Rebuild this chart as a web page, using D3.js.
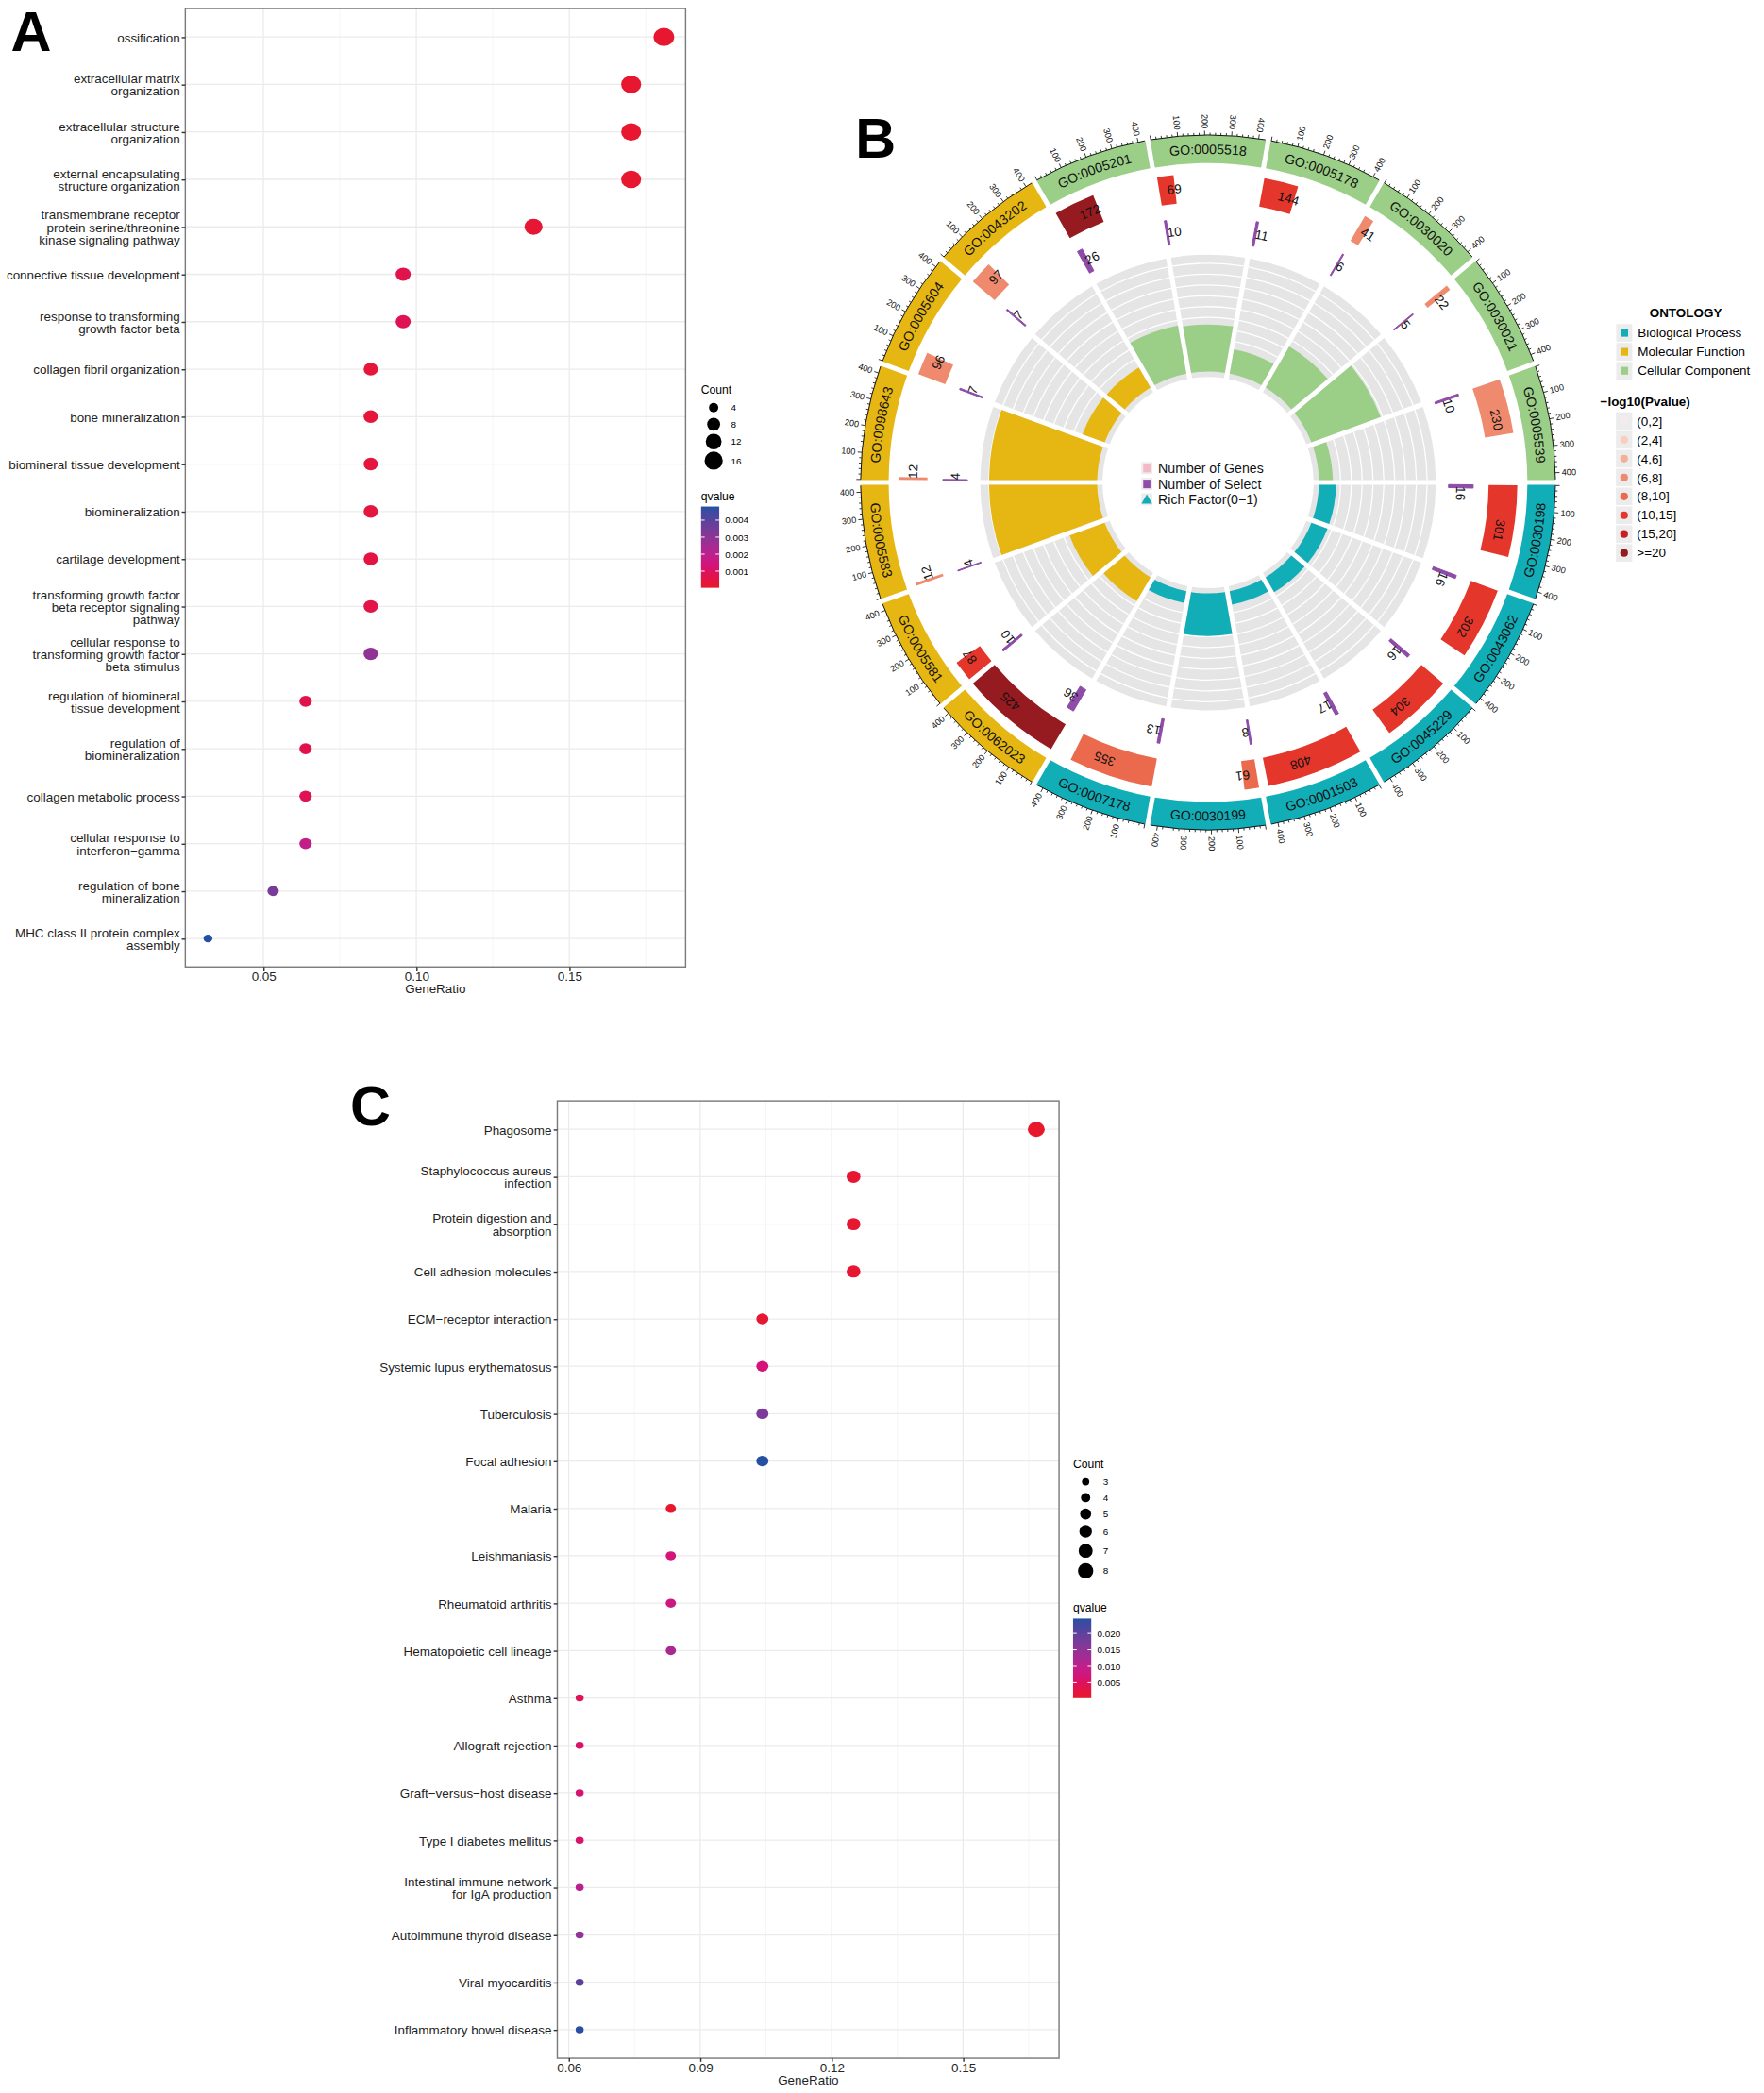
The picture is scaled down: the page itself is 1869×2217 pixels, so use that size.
<!DOCTYPE html>
<html>
<head>
<meta charset="utf-8">
<script src="https://cdn.jsdelivr.net/npm/d3@7"></script>
<style>
  body { margin: 0; background: #fff; }
  text { font-family: "Liberation Sans", Arial, sans-serif; }
</style>
</head>
<body>
<svg id="fig" width="1869" height="2217" viewBox="0 0 1320 1566"></svg>
<script>
// ---------------- data: panel A (GO dot plot) ----------------
const termsA = ["ossification", "extracellular matrix\norganization", "extracellular structure\norganization",
  "external encapsulating\nstructure organization", "transmembrane receptor\nprotein serine/threonine\nkinase signaling pathway",
  "connective tissue development", "response to transforming\ngrowth factor beta", "collagen fibril organization",
  "bone mineralization", "biomineral tissue development", "biomineralization", "cartilage development",
  "transforming growth factor\nbeta receptor signaling\npathway", "cellular response to\ntransforming growth factor\nbeta stimulus",
  "regulation of biomineral\ntissue development", "regulation of\nbiomineralization", "collagen metabolic process",
  "cellular response to\ninterferon\u2212gamma", "regulation of bone\nmineralization", "MHC class II protein complex\nassembly"];
const ratioA = [0.1809, 0.1702, 0.1702, 0.1702, 0.1383, 0.0957, 0.0957, 0.0851, 0.0851, 0.0851,
  0.0851, 0.0851, 0.0851, 0.0851, 0.0638, 0.0638, 0.0638, 0.0638, 0.0532, 0.0319];
const countA = [17, 16, 16, 16, 13, 9, 9, 8, 8, 8, 8, 8, 8, 8, 6, 6, 6, 6, 5, 3];
const qA = [0.0001, 0.0001, 0.0001, 0.0001, 0.0002, 0.0007, 0.0008, 0.0003, 0.0003, 0.0004,
  0.0004, 0.0005, 0.0006, 0.0029, 0.0007, 0.0007, 0.0008, 0.0018, 0.0034, 0.0048];
const ticksA = [0.05, 0.10, 0.15];
const minorA = [0.075, 0.125, 0.175];
const countKeysA = [4, 8, 12, 16];
const qKeysA = [0.001, 0.002, 0.003, 0.004];

// ---------------- data: panel C (KEGG dot plot) ----------------
const termsC = ["Phagosome", "Staphylococcus aureus\ninfection", "Protein digestion and\nabsorption", "Cell adhesion molecules",
  "ECM\u2212receptor interaction", "Systemic lupus erythematosus", "Tuberculosis", "Focal adhesion", "Malaria",
  "Leishmaniasis", "Rheumatoid arthritis", "Hematopoietic cell lineage", "Asthma", "Allograft rejection",
  "Graft\u2212versus\u2212host disease", "Type I diabetes mellitus", "Intestinal immune network\nfor IgA production",
  "Autoimmune thyroid disease", "Viral myocarditis", "Inflammatory bowel disease"];
const ratioC = [0.1667, 0.125, 0.125, 0.125, 0.1042, 0.1042, 0.1042, 0.1042, 0.0833, 0.0833,
  0.0833, 0.0833, 0.0625, 0.0625, 0.0625, 0.0625, 0.0625, 0.0625, 0.0625, 0.0625];
const countC = [8, 6, 6, 6, 5, 5, 5, 5, 4, 4, 4, 4, 3, 3, 3, 3, 3, 3, 3, 3];
const qC = [0.0004, 0.0009, 0.0009, 0.0011, 0.0012, 0.0070, 0.0168, 0.0245, 0.0008, 0.0070,
  0.0080, 0.0122, 0.0047, 0.0059, 0.0068, 0.0060, 0.0105, 0.0148, 0.0201, 0.0242];
const ticksC = [0.06, 0.09, 0.12, 0.15];
const minorC = [0.075, 0.105, 0.135, 0.165];
const countKeysC = [3, 4, 5, 6, 7, 8];
const qKeysC = [0.005, 0.010, 0.015, 0.020];

// ---------------- data: panel B (GO circle) ----------------
const goIds = ["GO:0030198", "GO:0043062", "GO:0045229", "GO:0001503", "GO:0030199", "GO:0007178",
  "GO:0062023", "GO:0005581", "GO:0005583", "GO:0098643", "GO:0005604", "GO:0043202",
  "GO:0005201", "GO:0005518", "GO:0005178", "GO:0030020", "GO:0030021", "GO:0005539"];
const ontology = ["BP", "BP", "BP", "BP", "BP", "BP", "MF", "MF", "MF", "MF", "MF", "MF",
  "CC", "CC", "CC", "CC", "CC", "CC"];
const geneNum = [301, 302, 304, 408, 61, 355, 425, 87, 12, 12, 96, 97, 172, 69, 144, 41, 22, 230];
const selectNum = [16, 16, 16, 17, 8, 13, 36, 10, 4, 4, 7, 7, 26, 10, 11, 6, 5, 10];
const richFactor = [0.053, 0.053, 0.053, 0.042, 0.131, 0.037, 0.085, 0.115, 0.333, 0.333, 0.073, 0.072,
  0.151, 0.145, 0.076, 0.146, 0.227, 0.043];
const pBin = [5, 5, 5, 5, 4, 4, 7, 5, 3, 3, 3, 3, 7, 5, 5, 3, 3, 3];
const pLabels = ["(0,2]", "(2,4]", "(4,6]", "(6,8]", "(8,10]", "(10,15]", "(15,20]", ">=20"];
const pColors = ["#F3ECEA", "#F8CEC1", "#F5AF98", "#EF8A6F", "#EB6A4E", "#E5362B", "#C91D23", "#961B20"];
const ontoKeys = ["BP", "MF", "CC"];
const ontoNames = ["Biological Process", "Molecular Function", "Cellular Component"];
const ontoColors = ["#12AEB8", "#E6B713", "#9BCF87"];

// red -> magenta -> blue, as in the qvalue colour bars
const qPalette = ["#E8182B", "#E1134D", "#D3147C", "#B8228F", "#983094", "#763C98", "#52439F", "#2450A2"];

const svg = d3.select("#fig");
const defs = svg.append("defs");

// ---------------- dot plot helper ----------------
function dotPlot(o) {
  const g = svg.append("g");
  const x = d3.scaleLinear().domain(o.xDomain).range([o.left, o.right]);
  const y = d3.scalePoint().domain(d3.range(o.terms.length)).range([o.top, o.bottom]).padding(0.6);
  const size = d3.scaleSqrt().domain(o.sizeDomain).range(o.sizeRange);
  const col = d3.scaleSequential(d3.piecewise(d3.interpolateLab, qPalette)).domain(o.qDomain).clamp(true);

  g.selectAll(".minor").data(o.minor).join("line")
    .attr("x1", d => x(d)).attr("x2", d => x(d)).attr("y1", o.top).attr("y2", o.bottom)
    .attr("stroke", "#F3F3F3").attr("stroke-width", 0.6);
  g.selectAll(".vmaj").data(o.ticks).join("line")
    .attr("x1", d => x(d)).attr("x2", d => x(d)).attr("y1", o.top).attr("y2", o.bottom)
    .attr("stroke", "#EBEBEB").attr("stroke-width", 0.9);
  g.selectAll(".hmaj").data(y.domain()).join("line")
    .attr("x1", o.left).attr("x2", o.right).attr("y1", d => y(d)).attr("y2", d => y(d))
    .attr("stroke", "#EBEBEB").attr("stroke-width", 0.9);

  g.selectAll("ellipse").data(y.domain()).join("ellipse")
    .attr("cx", i => x(o.ratio[i])).attr("cy", i => y(i))
    .attr("rx", i => size(o.count[i]) / 2 * 1.1).attr("ry", i => size(o.count[i]) / 2 * 0.97)
    .attr("fill", i => col(o.q[i]));

  g.append("rect").attr("x", o.left).attr("y", o.top)
    .attr("width", o.right - o.left).attr("height", o.bottom - o.top)
    .attr("fill", "none").attr("stroke", "#7A7A7A").attr("stroke-width", 1);

  // y axis with wrapped labels
  const ya = g.append("g").attr("transform", `translate(${o.left},0)`)
    .call(d3.axisLeft(y).tickSize(2.7).tickPadding(o.labelPad).tickFormat(""));
  ya.select(".domain").remove();
  ya.selectAll("line").attr("stroke", "#333");
  ya.selectAll(".tick").each(function (i) {
    const lines = o.terms[i].split("\n");
    const t = d3.select(this).select("text").attr("dy", null)
      .attr("font-size", 9.5).attr("fill", "#1E1E1E").attr("font-family", null);
    const lh = 9.3;
    lines.forEach((ln, k) => {
      t.append("tspan").attr("x", -(2.7 + o.labelPad))
        .attr("dy", k === 0 ? (-(lines.length - 1) / 2 * lh + 3.3) : lh).text(ln);
    });
  });

  const xa = g.append("g").attr("transform", `translate(0,${o.bottom})`)
    .call(d3.axisBottom(x).tickValues(o.ticks).tickSize(2.7).tickPadding(0.8).tickFormat(d3.format(".2f")));
  xa.select(".domain").remove();
  xa.selectAll("line").attr("stroke", "#333");
  xa.selectAll("text").attr("font-size", 9.5).attr("fill", "#262626").attr("font-family", null);

  g.append("text").attr("x", (o.left + o.right) / 2).attr("y", o.bottom + 19.5)
    .attr("text-anchor", "middle").attr("font-size", 9.5).attr("fill", "#1E1E1E").text("GeneRatio");

  // legend: Count
  const L = o.legend;
  g.append("text").attr("x", L.x).attr("y", L.countY + 3).attr("font-size", 8.6).text("Count");
  g.selectAll(".ck").data(o.countKeys).join("circle")
    .attr("cx", L.x + 9.4).attr("cy", (d, k) => L.keyY[k]).attr("r", d => size(d) / 2).attr("fill", "#000");
  g.selectAll(".cl").data(o.countKeys).join("text")
    .attr("x", L.x + 22.4).attr("y", (d, k) => L.keyY[k] + 2.5).attr("font-size", 7).text(d => d);

  // legend: qvalue colour bar
  g.append("text").attr("x", L.x).attr("y", L.qY + 2.6).attr("font-size", 8.6).text("qvalue");
  const gid = "grad" + o.id;
  const grad = defs.append("linearGradient").attr("id", gid)
    .attr("x1", 0).attr("y1", 1).attr("x2", 0).attr("y2", 0);
  d3.range(0, 1.0001, 0.05).forEach(t => {
    grad.append("stop").attr("offset", t)
      .attr("stop-color", col(o.qDomain[0] + t * (o.qDomain[1] - o.qDomain[0])));
  });
  const barW = 13.6;
  g.append("rect").attr("x", L.x).attr("y", L.barTop).attr("width", barW)
    .attr("height", L.barBottom - L.barTop).attr("fill", `url(#${gid})`);
  const qy = d3.scaleLinear().domain(o.qDomain).range([L.barBottom, L.barTop]);
  o.qKeys.forEach(v => {
    [[L.x, L.x + 2.7], [L.x + barW - 2.7, L.x + barW]].forEach(([a, b]) => {
      g.append("line").attr("x1", a).attr("x2", b).attr("y1", qy(v)).attr("y2", qy(v))
        .attr("stroke", "#fff").attr("stroke-width", 0.7);
    });
    g.append("text").attr("x", L.x + barW + 4.4).attr("y", qy(v) + 2.5)
      .attr("font-size", 7).text(d3.format(".3f")(v));
  });
}

dotPlot({
  id: "A", terms: termsA, ratio: ratioA, count: countA, q: qA,
  xDomain: [0.0245, 0.188], left: 138.6, right: 513, top: 6.4, bottom: 723.5,
  ticks: ticksA, minor: minorA, labelPad: 1.3,
  sizeDomain: [3, 17], sizeRange: [6.1, 14.0], qDomain: [0.00002, 0.0048],
  countKeys: countKeysA, qKeys: qKeysA,
  legend: { x: 524.6, countY: 291.5, keyY: [305, 317.4, 330.4, 344.7], qY: 371.5, barTop: 379, barBottom: 439.8 }
});

dotPlot({
  id: "C", terms: termsC, ratio: ratioC, count: countC, q: qC,
  xDomain: [0.0574, 0.1719], left: 417, right: 792.5, top: 823.7, bottom: 1539.9,
  ticks: ticksC, minor: minorC, labelPad: 1.6,
  sizeDomain: [3, 8], sizeRange: [5.5, 11.5], qDomain: [0.0003, 0.0245],
  countKeys: countKeysC, qKeys: qKeysC,
  legend: { x: 803, countY: 1095.5, keyY: [1108.7, 1120.6, 1132.7, 1145.7, 1160.3, 1175.3], qY: 1203, barTop: 1211, barBottom: 1270.6 }
});

// ---------------- panel B: GO circle ----------------
const cxB = 904, cyB = 361;
const maxLen = 425;
const secAng = d3.scaleLinear().domain([0, maxLen]).range([0.5, 19.5]);
const rScale = d3.scaleLinear().domain([0, 0.3333]).range([83, 164]);
const ontoCol = d3.scaleOrdinal().domain(ontoKeys).range(ontoColors);
const toRad = c => (c + 90) * Math.PI / 180;
const pt = (c, r) => [r * Math.cos(c * Math.PI / 180), r * Math.sin(c * Math.PI / 180)];
function arcD(r, c0, c1) {
  const [x0, y0] = pt(c0, r), [x1, y1] = pt(c1, r);
  const large = Math.abs(c1 - c0) > 180 ? 1 : 0;
  const sweep = c1 > c0 ? 1 : 0;
  return `M${x0},${y0}A${r},${r} 0 ${large} ${sweep} ${x1},${y1}`;
}
const padArc = (r0, r1) => d3.arc().innerRadius(r0).outerRadius(r1).padRadius(100).padAngle(0.036);
const plainArc = (r0, r1) => d3.arc().innerRadius(r0).outerRadius(r1);

const secs = goIds.map((id, i) => ({
  id, i, onto: ontology[i], genes: geneNum[i], sel: selectNum[i], rf: richFactor[i], p: pBin[i],
  startAngle: toRad(20 * i), endAngle: toRad(20 * i + 20)
}));

const gB = svg.append("g").attr("transform", `translate(${cxB},${cyB})`);

// outer ontology band
gB.selectAll(".band").data(secs).join("path")
  .attr("d", d => padArc(239, 260)(d)).attr("fill", d => ontoCol(d.onto));

// rich factor track background + grid
gB.selectAll(".cell").data(secs).join("path")
  .attr("d", d => padArc(79, 170.5)(d)).attr("fill", "#E5E5E5");
d3.range(1, 11).forEach(k => {
  const r = rScale(k * 0.03333);
  gB.selectAll(null).data(secs).join("path")
    .attr("d", d => padArc(r - 0.45, r + 0.45)(d)).attr("fill", "#fff");
});
gB.selectAll(".rich").data(secs).join("path")
  .attr("d", d => padArc(83, rScale(d.rf))(d)).attr("fill", d => ontoCol(d.onto));

// number of genes bars
gB.selectAll(".genes").data(secs).join("path")
  .attr("d", d => plainArc(210, 231.5)({ startAngle: toRad(20 * d.i + secAng(0)), endAngle: toRad(20 * d.i + secAng(d.genes)) }))
  .attr("fill", d => pColors[d.p]);

// number of select bars
gB.selectAll(".sel").data(secs).join("path")
  .attr("d", d => plainArc(180, 198.5)({ startAngle: toRad(20 * d.i + secAng(0)), endAngle: toRad(20 * d.i + secAng(d.sel)) }))
  .attr("fill", "#8E4BA8").attr("stroke", "#8E4BA8").attr("stroke-width", 0.7);

// value labels bending along the tracks
function bendLabel(id, c0, rBase, txt, fs) {
  defs.append("path").attr("id", id).attr("d", arcD(rBase, c0, c0 + 45))
    .attr("transform", `translate(${cxB},${cyB})`);
  svg.append("text").attr("font-size", fs).attr("fill", "#111")
    .append("textPath").attr("href", "#" + id).attr("startOffset", 0).attr("text-anchor", "start").text(txt);
}
secs.forEach(d => {
  bendLabel("gl" + d.i, 20 * d.i + secAng(d.genes / 2), 221 - 3.4, d.genes, 9.5);
  bendLabel("sl" + d.i, 20 * d.i + secAng(d.sel / 2), 189.3 - 3.4, d.sel, 9.5);
});

// sector names in the band
secs.forEach(d => {
  const mid = 20 * d.i + 10;
  const top = Math.sin(mid * Math.PI / 180) < 0;
  const fs = 10;
  const dPath = top ? arcD(249.5 - 0.36 * fs, 20 * d.i + 0.5, 20 * d.i + 19.5)
                    : arcD(249.5 + 0.36 * fs, 20 * d.i + 19.5, 20 * d.i + 0.5);
  defs.append("path").attr("id", "nm" + d.i).attr("d", dPath).attr("transform", `translate(${cxB},${cyB})`);
  svg.append("text").attr("font-size", fs).attr("fill", "#111")
    .append("textPath").attr("href", "#nm" + d.i).attr("startOffset", "50%").attr("text-anchor", "middle").text(d.id);
});

// sector axes
const axTicks = d3.range(0, 401, 20);
secs.forEach(d => {
  const ga = gB.append("g");
  ga.append("path").attr("d", arcD(260, 20 * d.i + secAng(0), 20 * d.i + secAng(maxLen)))
    .attr("fill", "none").attr("stroke", "#111").attr("stroke-width", 0.7);
  axTicks.forEach(v => {
    const c = 20 * d.i + secAng(v);
    const major = v % 100 === 0;
    const [x0, y0] = pt(c, 260), [x1, y1] = pt(c, major ? 263.2 : 261.7);
    ga.append("line").attr("x1", x0).attr("y1", y0).attr("x2", x1).attr("y2", y1)
      .attr("stroke", "#111").attr("stroke-width", 0.6);
  });
  const mid = 20 * d.i + 10;
  const out = Math.cos(mid * Math.PI / 180) >= 0;
  [100, 200, 300, 400].forEach(v => {
    const c = 20 * d.i + secAng(v);
    const [x, y] = pt(c, 264.8);
    ga.append("text").attr("transform", `translate(${x},${y}) rotate(${out ? c : c + 180})`)
      .attr("text-anchor", out ? "start" : "end").attr("dominant-baseline", "central")
      .attr("font-size", 6.5).attr("fill", "#111").text(v);
  });
});

// legend in the circle centre
const cLeg = [{ t: "Number of Genes", c: "#F4B8C6", shape: "sq" },
  { t: "Number of Select", c: "#8E4BA8", shape: "sq" },
  { t: "Rich Factor(0\u22121)", c: "#12AEB8", shape: "tri" }];
const cLegY = [350.2, 362.1, 373.6];
cLeg.forEach((d, k) => {
  const y = cLegY[k];
  svg.append("rect").attr("x", 854).attr("y", y - 4.6).attr("width", 8.4).attr("height", 9.2).attr("fill", "#EDEDED");
  if (d.shape === "sq") {
    svg.append("rect").attr("x", 855.5).attr("y", y - 3.2).attr("width", 5.4).attr("height", 6.4).attr("fill", d.c);
  } else {
    svg.append("path").attr("d", `M858.2,${y - 3.9}L862.2,${y + 3.3}L854.2,${y + 3.3}Z`).attr("fill", d.c);
  }
  svg.append("text").attr("x", 866.7).attr("y", y + 3.5).attr("font-size", 10).attr("fill", "#111").text(d.t);
});

// ONTOLOGY legend
svg.append("text").attr("x", 1261.5).attr("y", 237).attr("text-anchor", "middle")
  .attr("font-size", 9.5).attr("font-weight", "bold").text("ONTOLOGY");
const oY = [249, 263.2, 277.4];
ontoNames.forEach((n, k) => {
  svg.append("rect").attr("x", 1209.5).attr("y", oY[k] - 6.6).attr("width", 12).attr("height", 13.2).attr("fill", "#ECECEC");
  svg.append("rect").attr("x", 1212.8).attr("y", oY[k] - 2.9).attr("width", 5.6).attr("height", 5.8).attr("fill", ontoColors[k]);
  svg.append("text").attr("x", 1225.7).attr("y", oY[k] + 3.3).attr("font-size", 9.5).text(n);
});

// -log10(Pvalue) legend
svg.append("text").attr("x", 1197.6).attr("y", 304).attr("font-size", 9.5).attr("font-weight", "bold").text("\u2212log10(Pvalue)");
pLabels.forEach((lab, k) => {
  const y = 315 + 14.1 * k;
  svg.append("rect").attr("x", 1209.3).attr("y", y - 6.6).attr("width", 12.2).attr("height", 13.2).attr("fill", "#ECECEC");
  svg.append("circle").attr("cx", 1215.4).attr("cy", y).attr("r", 2.9).attr("fill", pColors[k]);
  svg.append("text").attr("x", 1225).attr("y", y + 3.3).attr("font-size", 9.5).text(lab);
});

// panel letters
[["A", 8, 38], ["B", 640, 118], ["C", 262, 842]].forEach(([t, x, y]) => {
  svg.append("text").attr("x", x).attr("y", y).attr("font-size", 42).attr("font-weight", "bold").text(t);
});
</script>
</body>
</html>
